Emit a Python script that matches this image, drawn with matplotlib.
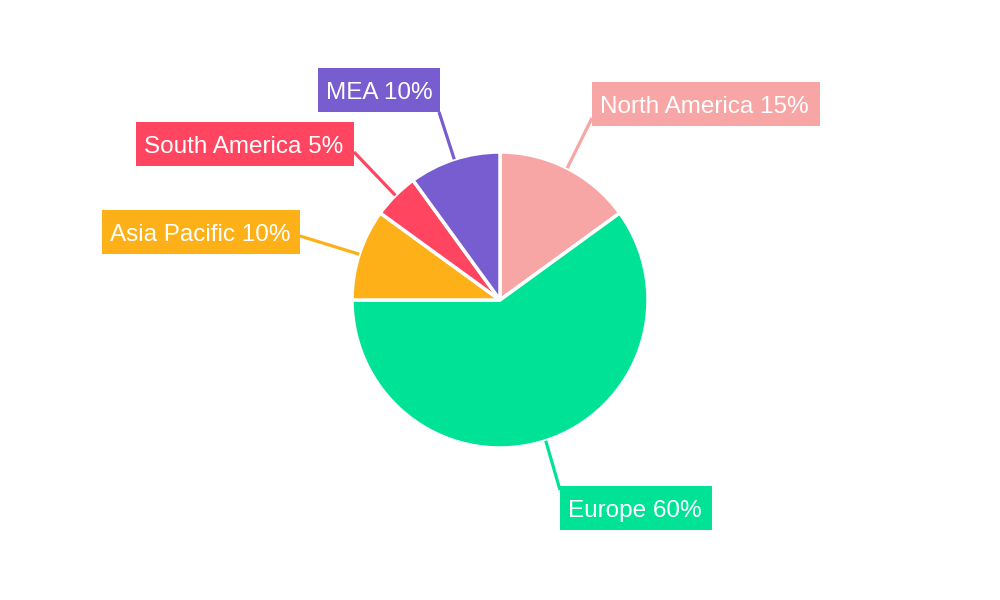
import numpy as np
import matplotlib.pyplot as plt
from matplotlib.patches import Rectangle

regions = ['North America', 'Europe', 'Asia Pacific', 'South America', 'MEA']
shares = [15, 60, 10, 5, 10]
colors = ['#F8A5A5', '#00E396', '#FEB019', '#FF4560', '#775DD0']

# label boxes in pixel coords (left, top, width, height) and where the leader line meets the box
boxes = [(592, 82, 228, 44), (560, 486, 152, 44), (102, 210, 198, 44),
         (136, 122, 218, 44), (318, 68, 122, 44)]
anchors = [(592, 118), (560, 490), (300, 236), (354, 152), (439, 112)]

H = 600
fig = plt.figure(figsize=(10, 6), dpi=100)
ax = fig.add_axes([0, 0, 1, 1])

cx, cy, r = 500, 300, 148
wedges, _ = ax.pie(shares, colors=colors, startangle=90, counterclock=False,
                   center=(cx, H - cy), radius=r,
                   wedgeprops=dict(edgecolor='white', linewidth=2.5, joinstyle='bevel'))

for w, name, val, col, (bx, by, bw, bh), (axp, ayp) in zip(
        wedges, regions, shares, colors, boxes, anchors):
    mid = np.deg2rad((w.theta1 + w.theta2) / 2)
    x0 = cx + r * np.cos(mid)
    y0 = (H - cy) + r * np.sin(mid)
    ax.plot([x0, axp], [y0, H - ayp], color=col, lw=2.3, solid_capstyle='butt', zorder=1)
    ax.add_patch(Rectangle((bx, H - by - bh), bw, bh, facecolor=col, edgecolor='none', zorder=3))
    ax.text(bx + 8, H - by - bh / 2 - 3, f'{name} {val}%', color='white', fontsize=17.5,
            family=['Liberation Sans', 'DejaVu Sans'], ha='left', va='center', zorder=4)

ax.set_xlim(0, 1000)
ax.set_ylim(0, H)
ax.set_aspect('equal')
ax.axis('off')

fig.savefig('out.png', dpi=100, facecolor='white')
